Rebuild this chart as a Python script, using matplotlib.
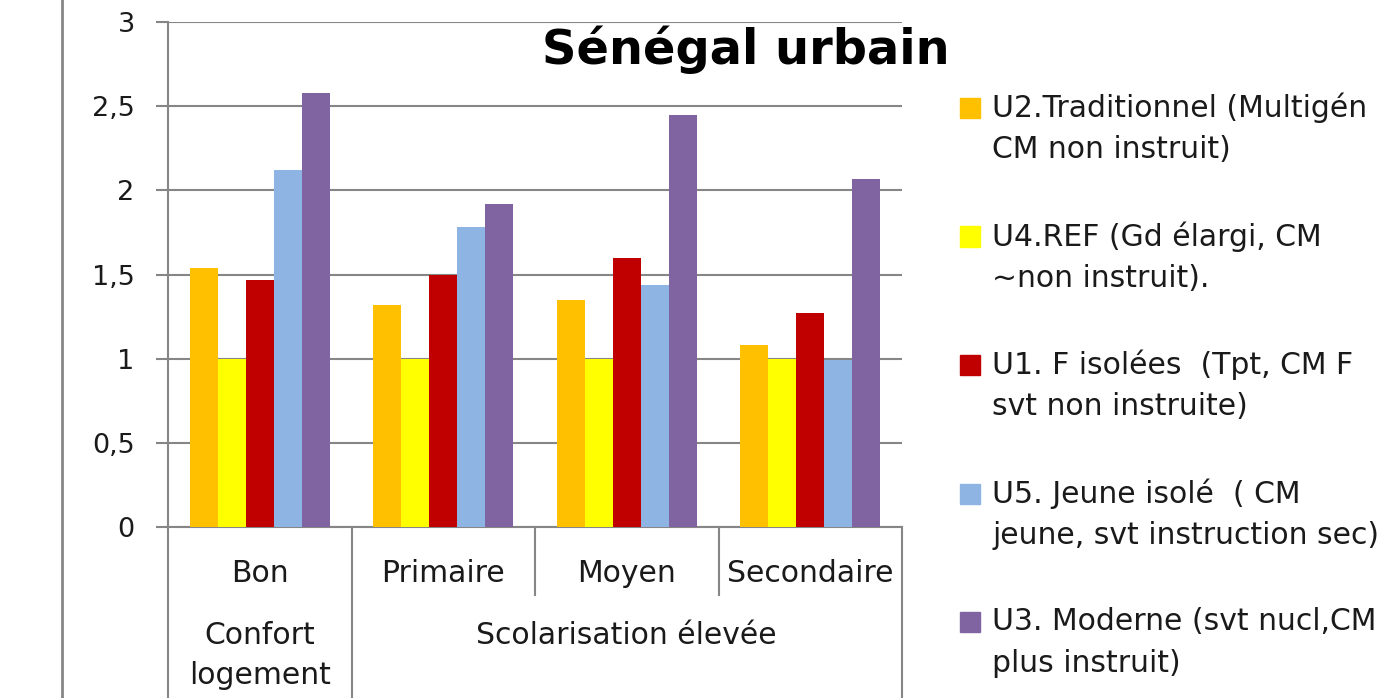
import numpy as np
import matplotlib.pyplot as plt
from matplotlib.patches import Rectangle
from matplotlib.lines import Line2D
import matplotlib.transforms as mtransforms

plt.rcParams['font.family'] = ['DejaVu Sans']

# === Données ===
categories = ["Bon", "Primaire", "Moyen", "Secondaire"]
groups = ["Confort\nlogement", "Scolarisation élevée"]
group_spans = [(0, 1), (1, 4)]

series = [
    "U2.Traditionnel (Multigén\nCM non instruit)",
    "U4.REF (Gd élargi, CM\n~non instruit).",
    "U1. F isolées  (Tpt, CM F\nsvt non instruite)",
    "U5. Jeune isolé  ( CM\njeune, svt instruction sec)",
    "U3. Moderne (svt nucl,CM\nplus instruit)",
]
colors = ["#FFC000", "#FFFF00", "#C00000", "#8EB4E3", "#8064A2"]

u2 = [1.54, 1.32, 1.35, 1.08]
u4 = [1.00, 1.00, 1.00, 1.00]
u1 = [1.47, 1.50, 1.60, 1.27]
u5 = [2.12, 1.78, 1.44, 0.99]
u3 = [2.58, 1.92, 2.45, 2.07]
values = [u2, u4, u1, u5, u3]

yticks = [0, 0.5, 1, 1.5, 2, 2.5, 3]
ytick_labels = ["0", "0,5", "1", "1,5", "2", "2,5", "3"]

W, H = 1386, 698
grid_col = "#868686"
txt_col = "#1a1a1a"

fig = plt.figure(figsize=(W / 100, H / 100), dpi=100)
ax = fig.add_axes([168 / W, 1 - 527 / H, (902 - 168) / W, (527 - 22) / H])

# === Barres ===
bw = 0.153
x = np.arange(len(categories)) + 0.5
for i, (vals, col) in enumerate(zip(values, colors)):
    ax.bar(x + (i - 2) * bw, vals, width=bw, color=col, zorder=3)

ax.set_xlim(0, 4)
ax.set_ylim(0, 3)
ax.set_yticks(yticks)
ax.set_yticklabels(ytick_labels, fontsize=19.5, color=txt_col)
ax.set_xticks([])
ax.yaxis.grid(True, color=grid_col, lw=1.5)
ax.set_axisbelow(True)
for s in ["top", "right"]:
    ax.spines[s].set_visible(False)
for s in ["left", "bottom"]:
    ax.spines[s].set_color(grid_col)
    ax.spines[s].set_linewidth(1.5)
ax.tick_params(axis="y", length=9, width=1.5, color=grid_col, pad=15)

# === Axe des catégories (deux niveaux) ===
trans = mtransforms.blended_transform_factory(ax.transData, ax.transAxes)
h_ax = 527 - 22
y_bot = -(H - 527) / h_ax
y_short = -(595 - 527) / h_ax
for k in range(len(categories) + 1):
    full = any(k == a or k == b for a, b in group_spans)
    ax.add_line(Line2D([k, k], [0, y_bot if full else y_short], transform=trans,
                       color=grid_col, lw=1.5, clip_on=False))
for k, c in enumerate(categories):
    ax.text(k + 0.5, -(573 - 527) / h_ax, c, transform=trans, ha="center",
            va="center", fontsize=21.5, color=txt_col)
for g, (a, b) in zip(groups, group_spans):
    for j, line in enumerate(g.split("\n")):
        ax.text((a + b) / 2, -(636 + 40 * j - 527) / h_ax, line, transform=trans,
                ha="center", va="center", fontsize=21.5, color=txt_col)

# === Titre ===
fig.text(746 / W, 1 - 50 / H, "Sénégal urbain", ha="center", va="center",
         fontsize=34.5, fontweight="bold", color="black")

# === Bordure gauche ===
fig.add_artist(Line2D([62 / W, 62 / W], [0, 1], color=grid_col, lw=2))

# === Légende ===
for i, (name, col) in enumerate(zip(series, colors)):
    yc = 108 + 128.5 * i
    fig.add_artist(Rectangle((960 / W, 1 - (yc + 10) / H), 20 / W, 20 / H,
                             transform=fig.transFigure, color=col))
    for j, line in enumerate(name.split("\n")):
        fig.text(992 / W, 1 - (yc + 42 * j) / H, line, ha="left", va="center",
                 fontsize=21.5, color=txt_col)

fig.savefig("out.png", dpi=100)
